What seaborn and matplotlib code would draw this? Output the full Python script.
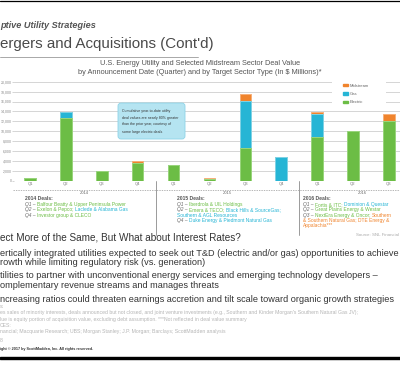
import pandas as pd
import matplotlib
matplotlib.use("Agg")
import matplotlib.pyplot as plt
import matplotlib.transforms as mtransforms
from matplotlib.patches import Patch, Rectangle, FancyBboxPatch
import seaborn as sns

# Deal values by quarter ($ millions)
quarters = ["Q1", "Q2", "Q3", "Q4", "Q1", "Q2", "Q3", "Q4", "Q1", "Q2", "Q3"]
years = ["2014"] * 4 + ["2015"] * 4 + ["2016"] * 3
electric = [600, 12700, 2000, 3600, 3200, 300, 6700, 0, 8800, 10000, 12000]
gas = [0, 1250, 0, 0, 0, 0, 9350, 4850, 4650, 0, 0]
midstream = [0, 0, 0, 450, 0, 250, 1400, 0, 500, 0, 1450]
y_ticks = [0, 2000, 4000, 6000, 8000, 10000, 12000, 14000, 16000, 18000, 20000]
year_labels = ["2014", "2015", "2016"]
year_pos = [1.5, 5.5, 9.25]

GREEN = "#6cbd45"
CYAN = "#26b5d5"
ORANGE = "#f0842d"
GREEN_E = "#9bd57c"
CYAN_E = "#7fd3e6"
ORANGE_E = "#f6b07a"

df = pd.DataFrame({
    "period": [f"{y} {q}" for y, q in zip(years, quarters)],
    "electric": electric,
    "gas": gas,
    "midstream": midstream,
})
df["elec_gas"] = df["electric"] + df["gas"]
df["total"] = df["elec_gas"] + df["midstream"]

sns.set_theme(style="white")
plt.rcParams["font.family"] = ["Liberation Sans", "DejaVu Sans"]

fig = plt.figure(figsize=(4, 3.78), dpi=100)
ax = fig.add_axes([14 / 400, 1 - 180.7 / 378, 386 / 400, 99 / 378])

# stacked bars: draw cumulative totals back to front
for col, c, e in [("total", ORANGE, ORANGE_E), ("elec_gas", CYAN, CYAN_E), ("electric", GREEN, GREEN_E)]:
    sns.barplot(data=df, x="period", y=col, order=df["period"], color=c, saturation=1,
                width=0.32, edgecolor=e, linewidth=0.7, ax=ax)

ax.set_xlim(-0.446, 10.31)
ax.set_ylim(0, 20000)
ax.set_yticks(y_ticks)
ax.set_yticklabels([f"{v:,}" for v in y_ticks])
ax.set_xticks(range(len(quarters)))
ax.set_xticklabels(quarters)
ax.set_xlabel("")
ax.set_ylabel("")
sns.despine(ax=ax, left=True, bottom=True)
ax.grid(axis="y", color="#cfcfcf", linewidth=0.6)
ax.set_axisbelow(True)
ax.tick_params(axis="y", left=True, length=1.2, width=0.6, color="#cfcfcf", pad=0.3,
               labelsize=2.5, labelcolor="#888888")
ax.tick_params(axis="x", bottom=False, length=0, pad=1.2, labelsize=3, labelcolor="#777777")

# legend on a white panel
ax.add_patch(Rectangle((0.824, 0.744), 0.14, 0.275, transform=ax.transAxes,
                       facecolor="white", edgecolor="none", zorder=1.5, clip_on=False))
handles = [Patch(color=ORANGE, label="Midstream"), Patch(color=CYAN, label="Gas"),
           Patch(color=GREEN, label="Electric")]
leg = ax.legend(handles=handles, loc="upper left", bbox_to_anchor=(0.852, 0.981), frameon=False,
                fontsize=3, handlelength=1.2, handleheight=0.6, handletextpad=0.5,
                labelspacing=1.07, borderpad=0, borderaxespad=0)
leg.set_zorder(3)
for t in leg.get_texts():
    t.set_color("#666666")

# year separators and labels under the axis
for xv in [3.5, 7.5]:
    ax.axvline(xv, ymin=-0.548, ymax=0, color="#8a8a8a", linewidth=0.6, clip_on=False)
blend = mtransforms.blended_transform_factory(ax.transData, ax.transAxes)
for xp, lab in zip(year_pos, year_labels):
    ax.text(xp, -0.12, lab, transform=blend, ha="center", va="center", fontsize=3, color="#666666")

# page overlay in pixel coordinates
ov = fig.add_axes([0, 0, 1, 1], zorder=3)
ov.set_xlim(0, 400)
ov.set_ylim(378, 0)
ov.axis("off")

ov.plot([0, 400], [0.8, 0.8], color="black", linewidth=0.9)
ov.text(0, 25, "ptive Utility Strategies", fontsize=6.6, style="italic", weight="bold",
        color="#555555", va="center")
ov.text(0, 44, "ergers and Acquisitions (Cont'd)", fontsize=10.9, color="#4a4a4a", va="center")
ov.plot([0, 198], [57.3, 57.3], color="#9a9a9a", linewidth=0.6)
ov.text(200, 63.5, "U.S. Energy Utility and Selected Midstream Sector Deal Value",
        fontsize=5.3, color="#555555", ha="center", va="center")
ov.text(200, 73, "by Announcement Date (Quarter) and by Target Sector Type (In $ Millions)*",
        fontsize=5.3, color="#555555", ha="center", va="center")

# callout
ov.add_patch(FancyBboxPatch((118, 103), 67, 36, boxstyle="round,pad=0,rounding_size=3",
                            facecolor="#b5e4f1", edgecolor="#8ed4e8", linewidth=0.6))
callout = ["Cumulative year-to-date utility", "deal values are nearly 80% greater",
           "than the prior year, courtesy of", "some large electric deals"]
for yy, line in zip([111, 117.7, 124.3, 131.7], callout):
    ov.text(122, yy, line, fontsize=2.6, color="#333333", va="center")

ov.plot([13, 400], [189.5, 189.5], color="#9a9a9a", linewidth=0.5, linestyle=(0, (2, 1.5)))


def deal_line(x, y, parts, size=3.5):
    t = ov.text(x, y, parts[0][0], color=parts[0][1], fontsize=size, va="center",
                style="italic" if parts[0][1] == "#666666" else "normal")
    for s, c in parts[1:]:
        t = ov.annotate(s, xy=(1, 0), xycoords=t, xytext=(1, 0), textcoords="offset points",
                        color=c, fontsize=size, va="bottom")


G, C, O, P = GREEN, CYAN, ORANGE, "#666666"
ov.text(25, 199, "2014 Deals:", fontsize=3.6, weight="bold", color="#555555", va="center")
deal_line(25, 204.5, [("Q1 –", P), ("Balfour Beatty & Upper Peninsula Power", G)])
deal_line(25, 209.8, [("Q2 –", P), ("Exelon & Pepco;", G), ("Laclede & Alabama Gas", C)])
deal_line(25, 215.1, [("Q4 –", P), ("Investor group & CLECO", G)])

ov.text(177, 199, "2015 Deals:", fontsize=3.6, weight="bold", color="#555555", va="center")
deal_line(177, 204.5, [("Q1 –", P), ("Iberdrola & UIL Holdings", G)])
deal_line(177, 209.8, [("Q2 –", P), ("Emera & TECO;", G), ("Black Hills & SourceGas;", C)])
deal_line(177, 215.1, [("Southern & AGL Resources", C)])
deal_line(177, 220.4, [("Q4 –", P), ("Duke Energy & Piedmont Natural Gas", C)])

ov.text(303, 199, "2016 Deals:", fontsize=3.6, weight="bold", color="#555555", va="center")
deal_line(303, 204.5, [("Q1 –", P), ("Fortis & ITC;", G), ("Dominion & Questar", C)])
deal_line(303, 209.8, [("Q2 –", P), ("Great Plains Energy & Westar", G)])
deal_line(303, 215.1, [("Q3 –", P), ("NextEra Energy & Oncor;", G), ("Southern", O)])
deal_line(303, 220.4, [("& Southern Natural Gas; DTE Energy &", O)])
deal_line(303, 225.8, [("Appalachia***", O)])

ov.text(399, 235, "Source: SNL Financial", fontsize=3.2, color="#aaaaaa", va="center", ha="right")

# discussion text
ov.text(0, 237.5, "ect More of the Same, But What about Interest Rates?", fontsize=7.2,
        color="#333333", va="center")
bullets = [
    (253, "ertically integrated utilities expected to seek out T&D (electric and/or gas) opportunities to achieve"),
    (262.5, "rowth while limiting regulatory risk (vs. generation)"),
    (275.7, "tilities to partner with unconventional energy services and emerging technology developers –"),
    (285, "omplementary revenue streams and manages threats"),
    (300, "ncreasing ratios could threaten earnings accretion and tilt scale toward organic growth strategies"),
]
for yy, line in bullets:
    ov.text(0, yy, line, fontsize=6.6, color="#333333", va="center")

notes = [
    (306, "s:"),
    (312.7, "es sales of minority interests, deals announced but not closed, and joint venture investments "
            "(e.g., Southern and Kinder Morgan's Southern Natural Gas JV);"),
    (320, "lue is equity portion of acquisition value, excluding debt assumption. ***Not reflected in deal value summary"),
    (325.3, "CES:"),
    (331, "nancial; Macquarie Research; UBS; Morgan Stanley; J.P. Morgan; Barclays; ScottMadden analysis"),
    (340.7, "8"),
]
for yy, line in notes:
    ov.text(0, yy, line, fontsize=3.7, color="#b5b5b5", va="center")
ov.text(0, 348.7, "ight © 2017 by ScottMadden, Inc. All rights reserved.", fontsize=2.7,
        weight="bold", color="#333333", va="center")
ov.add_patch(Rectangle((0, 356.7), 400, 2.6, color="black"))

fig.savefig("out.png", dpi=100)
